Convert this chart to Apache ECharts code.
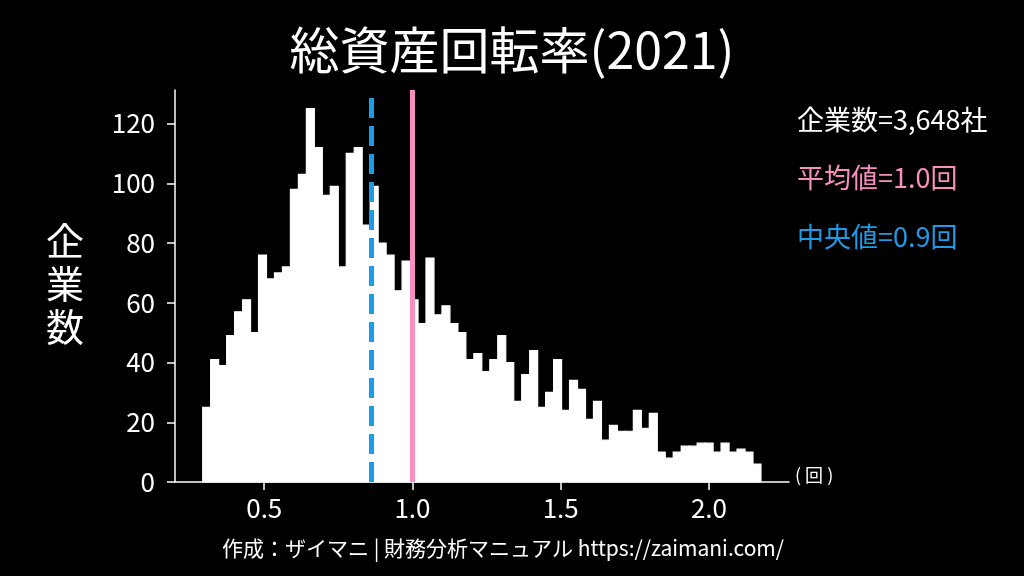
<!DOCTYPE html>
<html lang="ja">
<head>
<meta charset="UTF-8">
<title>総資産回転率(2021)</title>
<style>
  html, body { margin: 0; padding: 0; background: #000; }
  #container { width: 1024px; height: 576px; }
</style>
</head>
<body>
<div id="container"></div>

<script src="https://cdn.jsdelivr.net/npm/echarts@6/dist/echarts.min.js"></script>
<script>
    // histogram bins (left edge of first bin, bin width) and company counts per bin
    var binStart = 0.2924;
    var binWidth = 0.0269;
    var counts = [
        25, 41, 39, 49, 57, 61, 50, 76, 68, 70,
        72, 98, 103, 125, 112, 96, 99, 72, 110, 112,
        86, 99, 80, 76, 64, 74, 61, 53, 75, 56,
        59, 53, 50, 41, 43, 37, 41, 49, 40, 27,
        36, 44, 25, 30, 41, 24, 34, 31, 21, 27,
        14, 19, 17, 17, 24, 18, 23, 10, 8, 10,
        12, 12, 13, 13, 10, 13, 10, 11, 10, 6
    ];
    var xTicks = [0.5, 1.0, 1.5, 2.0];
    var yTicks = [0, 20, 40, 60, 80, 100, 120];
    var meanValue = 1.005;
    var medianValue = 0.863;
    var companyText = '企業数=3,648社';
    var meanText = '平均値=1.0回';
    var medianText = '中央値=0.9回';

    var FONT = "'Noto Sans CJK JP', 'Noto Sans', sans-serif";
    var PINK = '#f78fbf';
    var BLUE = '#1e9be6';

    var bins = counts.map(function (c, i) {
        var x0 = binStart + binWidth * i;
        return [x0, x0 + binWidth, c];
    });

    var option = {
        backgroundColor: '#000',
        animation: false,
        title: {
            text: '総資産回転率(2021)',
            left: 'center',
            top: 20,
            textStyle: { color: '#fff', fontSize: 50, fontWeight: 'normal', fontFamily: FONT }
        },
        grid: { left: 175, right: 235, top: 90, bottom: 94 },
        xAxis: {
            type: 'value',
            min: 0.199,
            max: 2.27,
            splitLine: { show: false },
            axisLine: { lineStyle: { color: '#fff', width: 1.5 } },
            axisTick: { length: 8, customValues: xTicks, lineStyle: { color: '#fff', width: 1.5 } },
            axisLabel: {
                customValues: xTicks,
                color: '#fff', fontSize: 26, fontFamily: FONT, margin: 13,
                formatter: function (v) { return v.toFixed(1); }
            }
        },
        yAxis: {
            type: 'value',
            min: 0,
            max: 131.25,
            splitLine: { show: false },
            axisLine: { show: true, lineStyle: { color: '#fff', width: 1.5 } },
            axisTick: { show: true, length: 8, customValues: yTicks, lineStyle: { color: '#fff', width: 1.5 } },
            axisLabel: { customValues: yTicks, color: '#fff', fontSize: 26, fontFamily: FONT, margin: 20 }
        },
        series: [{
            type: 'custom',
            data: bins,
            encode: { x: [0, 1], y: 2 },
            renderItem: function (params, api) {
                var p0 = api.coord([api.value(0), api.value(2)]);
                var p1 = api.coord([api.value(1), 0]);
                return {
                    type: 'rect',
                    shape: { x: p0[0], y: p0[1], width: p1[0] - p0[0], height: p1[1] - p0[1] },
                    style: { fill: '#fff', stroke: '#fff', lineWidth: 1.2 }
                };
            }
        }, {
            type: 'line',
            data: [],
            markLine: {
                silent: true,
                symbol: 'none',
                label: { show: false },
                data: [
                    { xAxis: medianValue, lineStyle: { color: BLUE, width: 5, type: [20, 8] } },
                    { xAxis: meanValue, lineStyle: { color: PINK, width: 5, type: 'solid' } }
                ]
            }
        }],
        graphic: [
            {
                type: 'text', x: 65, y: 284,
                style: {
                    text: '企\n業\n数', fill: '#fff', font: '38px ' + FONT,
                    align: 'center', verticalAlign: 'middle', lineHeight: 43
                }
            },
            {
                type: 'text', x: 797, y: 120,
                style: { text: companyText, fill: '#fff', font: '27px ' + FONT, verticalAlign: 'middle' }
            },
            {
                type: 'text', x: 797, y: 178,
                style: { text: meanText, fill: PINK, font: '27px ' + FONT, verticalAlign: 'middle' }
            },
            {
                type: 'text', x: 797, y: 237,
                style: { text: medianText, fill: BLUE, font: '27px ' + FONT, verticalAlign: 'middle' }
            },
            {
                type: 'text', x: 795, y: 475,
                style: { text: '( 回 )', fill: '#fff', font: '18px ' + FONT, verticalAlign: 'middle' }
            },
            {
                type: 'text', x: 503, y: 548,
                style: {
                    text: '作成：ザイマニ | 財務分析マニュアル https://zaimani.com/',
                    fill: '#fff', font: '21px ' + FONT, align: 'center', verticalAlign: 'middle'
                }
            }
        ]
    };

    var myChart = echarts.init(document.getElementById('container'));
    myChart.setOption(option);
</script>
</body>
</html>
